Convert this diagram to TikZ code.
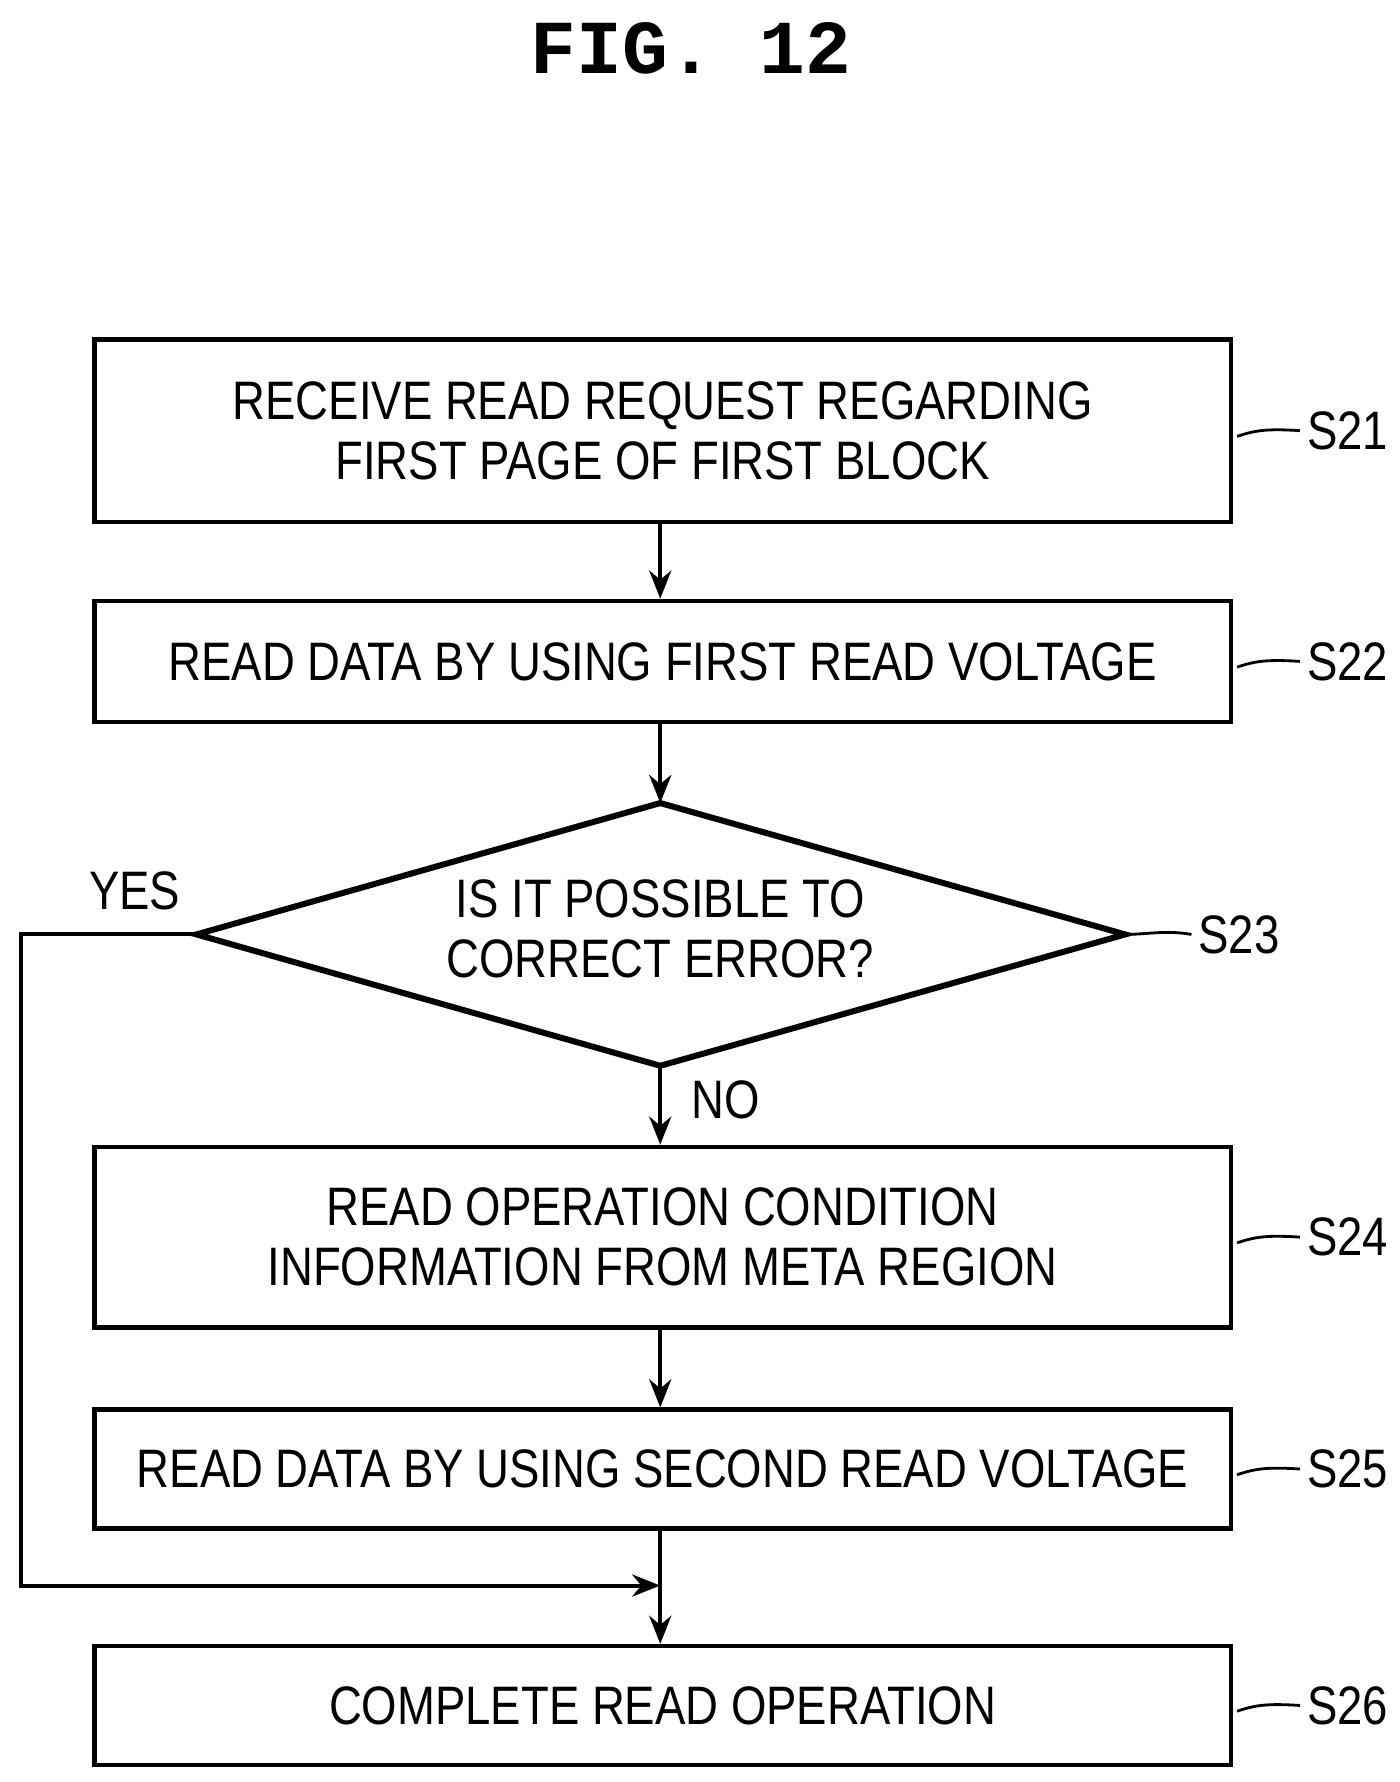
\documentclass[tikz,border=0pt]{standalone}
\usepackage{fontspec}
\setmainfont{Liberation Sans}[FakeStretch=0.84]
\newfontfamily\titlefont{Liberation Mono}
\usetikzlibrary{arrows.meta}
\begin{document}
\begin{tikzpicture}[x=0.02cm,y=-0.02cm,
  box/.style={draw,line width=2.2pt,minimum width=19.9cm,align=center,font=\fontsize{27}{30}\selectfont,inner sep=0pt},
  lab/.style={font=\fontsize{27}{30}\selectfont},
  arr/.style={line width=2pt,-{Stealth[length=14pt,width=11pt]}},
  tick/.style={line width=1.4pt}]
\useasboundingbox (0,0) rectangle (1225,1560);
\node[font=\titlefont\bfseries\fontsize{38}{40}\selectfont] (title) at (605,42) {FIG.\ 12};
\node[box,minimum height=3.2cm] (s21) at (580,377) {RECEIVE READ REQUEST REGARDING\\FIRST PAGE OF FIRST BLOCK};
\node[box,minimum height=2.12cm] (s22) at (580,579) {READ DATA BY USING FIRST READ VOLTAGE};
\coordinate (dt) at (578,703); \coordinate (dr) at (985,818);
\coordinate (db) at (578,933); \coordinate (dl) at (172,818);
\draw[line width=3pt] (dt) -- (dr) -- (db) -- (dl) -- cycle;
\node[lab,align=center] (s23) at (578,813) {IS IT POSSIBLE TO\\CORRECT ERROR?};
\node[box,minimum height=3.16cm] (s24) at (580,1083) {READ OPERATION CONDITION\\INFORMATION FROM META REGION};
\node[box,minimum height=2.08cm] (s25) at (580,1286) {READ DATA BY USING SECOND READ VOLTAGE};
\node[box,minimum height=2.08cm] (s26) at (580,1493) {COMPLETE READ OPERATION};
\draw[arr] (s21.south -| dt) -- (s22.north -| dt);
\draw[arr] (s22.south -| dt) -- (dt);
\draw[arr] (db) -- (s24.north -| db);
\draw[arr] (s24.south -| db) -- (s25.north -| db);
\draw[arr] (s25.south -| db) -- (s26.north -| db);
\coordinate (m) at (578,1388);
\draw[arr] (dl) -- (18,818) -- (18,1388) -- (m);
\node[lab] (yes) at (118,780) {YES};
\node[lab] (no) at (635,963) {NO};
\foreach \n/\t/\y in {s21/S21/377,s22/S22/579,s24/S24/1083,s25/S25/1286,s26/S26/1493}{
  \node[lab,anchor=west] (l\n) at (1138,\y) {\t};
  \draw[tick] (1083,\y+5) .. controls (1098,\y) and (1108,\y-2) .. (l\n.west);
}
\node[lab,anchor=west] (ls23) at (1043,818) {S23};
\draw[tick] (dr) .. controls (1005,818) and (1020,814) .. (ls23.west);
\end{tikzpicture}
\end{document}
